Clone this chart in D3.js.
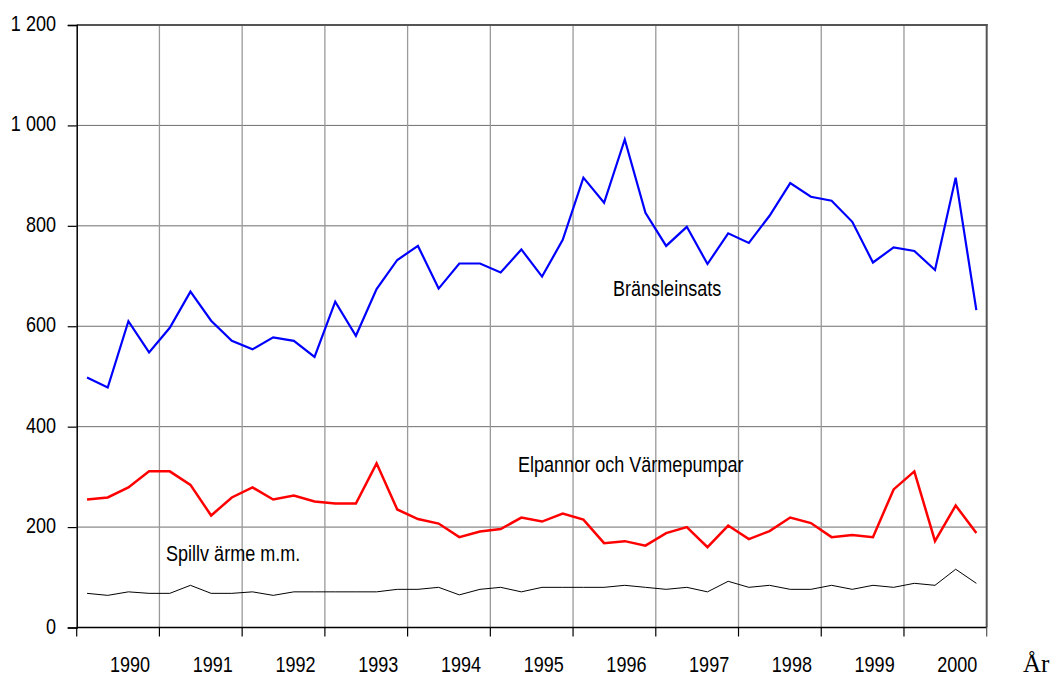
<!DOCTYPE html>
<html>
<head>
<meta charset="utf-8">
<script src="https://cdn.jsdelivr.net/npm/d3@7"></script>
<style>
  html, body { margin: 0; padding: 0; background: #fff; }
  svg { display: block; }
  .lbl { font-family: "Liberation Sans", Arial, sans-serif; font-size: 22px; fill: #000; }
</style>
</head>
<body>
<svg id="chart" width="1055" height="677"></svg>
<script>
// ---- Data (quarterly, 1990–2000) ----
const years = ["1990","1991","1992","1993","1994","1995","1996","1997","1998","1999","2000"];
const quarters = years.flatMap(y => ["Q1","Q2","Q3","Q4"].map(q => y + " " + q));
const yTicks = [0, 200, 400, 600, 800, 1000, 1200];

const bransleinsats = [498,478,610,548,597,669,611,571,554,578,571,539,649,581,674,732,760,675,725,725,707,753,699,772,896,846,972,826,760,798,724,785,766,820,885,858,850,808,727,757,750,712,896,632];
const elpannor = [255,259,279,311,311,284,223,259,279,255,263,251,247,247,327,235,216,207,180,191,196,219,211,227,215,168,172,163,188,200,160,203,176,192,219,208,180,184,180,275,311,172,243,188];
const spillvarme = [68,64,71,68,68,84,68,68,71,64,71,71,71,71,71,76,76,80,65,76,80,71,80,80,80,80,84,80,76,80,71,92,80,84,76,76,84,76,84,80,88,84,116,88];

const seriesLabels = ["Bränsleinsats", "Elpannor och Värmepumpar", "Spillv ärme m.m."];
const xTitle = "År";

// ---- Layout ----
const svg = d3.select("#chart");
const L = 76.7, R = 986.7, T = 25, B = 627.5;
const NARROW = 0.82;

const x = d3.scaleBand().domain(quarters).range([L, R]).padding(0);
const xc = q => x(q) + x.bandwidth() / 2;
const y = d3.scaleLinear().domain([0, 1200]).range([B, T]);

const fmt = d3.formatLocale({decimal: ",", thousands: " ", grouping: [3], currency: ["", " kr"]}).format(",d");

function narrowText(parent, tx, ty, str, anchor) {
  return parent.append("text").attr("class", "lbl")
    .attr("transform", `translate(${tx},${ty}) scale(${NARROW},1)`)
    .attr("text-anchor", anchor || "start").text(str);
}

// Horizontal gridlines
svg.append("g").selectAll("line").data(yTicks.filter(d => d > 0 && d < 1200)).join("line")
  .attr("x1", L).attr("x2", R).attr("y1", d => y(d)).attr("y2", d => y(d))
  .attr("stroke", "#6e6e6e").attr("stroke-width", 1);

// Vertical gridlines at year boundaries
const yearStarts = years.map(yr => yr + " Q1").slice(1);
svg.append("g").selectAll("line").data(yearStarts).join("line")
  .attr("x1", d => x(d)).attr("x2", d => x(d)).attr("y1", T).attr("y2", B)
  .attr("stroke", "#9a9a9a").attr("stroke-width", 1.3);

// Top & right border
svg.append("line").attr("x1", L).attr("x2", R + 1).attr("y1", y(1200)).attr("y2", y(1200))
  .attr("stroke", "#555").attr("stroke-width", 2);
svg.append("line").attr("x1", R).attr("x2", R).attr("y1", T - 1).attr("y2", B)
  .attr("stroke", "#555").attr("stroke-width", 2);

// Y axis
const yAxis = d3.axisLeft(y).tickValues(yTicks).tickSize(9).tickFormat(fmt);
const gy = svg.append("g").attr("transform", `translate(${L},0)`).call(yAxis);
gy.select(".domain").attr("stroke", "#000").attr("stroke-width", 1.5);
gy.selectAll(".tick line").attr("stroke", "#000").attr("stroke-width", 1.2);
gy.selectAll(".tick text").attr("class", "lbl").attr("x", null).attr("dy", "0.25em")
  .attr("transform", `translate(-20.7,0) scale(${NARROW},1)`)
  .style("font-family", '"Liberation Sans", Arial, sans-serif')
  .style("font-size", "22px").attr("fill", "#000");

// X axis (ticks at year boundaries)
const tickQs = [quarters[0], ...yearStarts];
const gx = svg.append("g");
gx.append("line").attr("x1", L).attr("x2", R).attr("y1", B).attr("y2", B).attr("stroke", "#000").attr("stroke-width", 1.5);
gx.selectAll("line.t").data(tickQs.concat(["end"])).join("line").attr("class", "t")
  .attr("x1", d => d === "end" ? R : x(d)).attr("x2", d => d === "end" ? R : x(d))
  .attr("y1", B).attr("y2", B + 9).attr("stroke", d => d === "end" ? "#555" : "#000").attr("stroke-width", 1.2);
years.forEach(yr => narrowText(gx, x(yr + " Q2") + x.bandwidth() + 12, 672, yr, "middle"));

// Lines
const line = d3.line().x((d, i) => xc(quarters[i])).y(d => y(d));
svg.append("path").datum(spillvarme).attr("d", line).attr("fill", "none").attr("stroke", "#000").attr("stroke-width", 1);
svg.append("path").datum(elpannor).attr("d", line).attr("fill", "none").attr("stroke", "#ff0000").attr("stroke-width", 2.5);
svg.append("path").datum(bransleinsats).attr("d", line).attr("fill", "none").attr("stroke", "#0000ff").attr("stroke-width", 2.2);

// Series labels
narrowText(svg, 613, 296, seriesLabels[0]);
narrowText(svg, 518, 472, seriesLabels[1]);
narrowText(svg, 166, 561, seriesLabels[2]);

// Axis title
svg.append("text").attr("x", 1023).attr("y", 672)
  .style("font-family", '"Liberation Serif", "Times New Roman", serif').style("font-size", "25px")
  .attr("fill", "#000").text(xTitle);
</script>
</body>
</html>
